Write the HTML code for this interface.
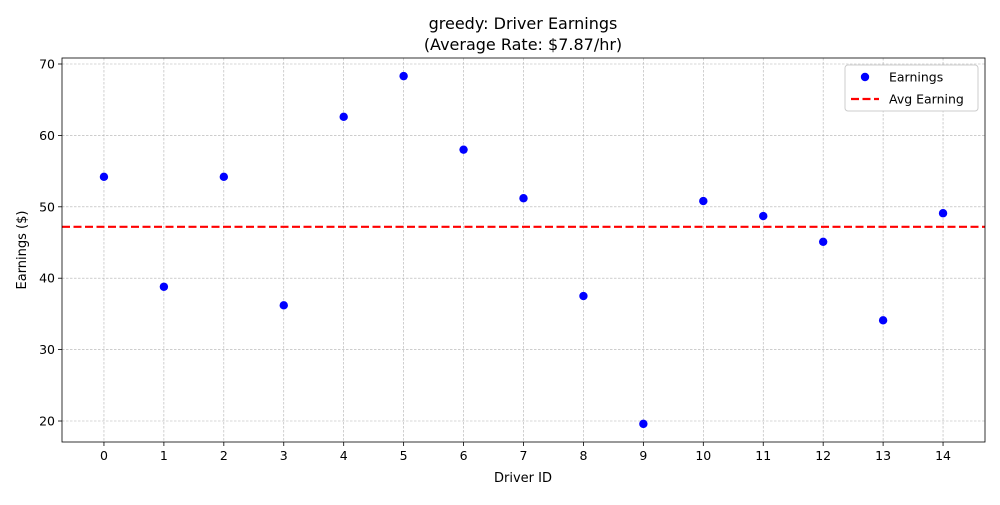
<!DOCTYPE html>
<html><head><meta charset="utf-8"><style>
body{margin:0;background:#fff;font-family:"Liberation Sans","DejaVu Sans",sans-serif;}
svg text{font-family:"DejaVu Sans","Liberation Sans",sans-serif;}
</style></head><body>
<svg id="chart" width="1000" height="500" xmlns="http://www.w3.org/2000/svg"></svg>
<script>
const driverIds=[0,1,2,3,4,5,6,7,8,9,10,11,12,13,14];
const earnings=[54.2,38.8,54.2,36.2,62.6,68.3,58.0,51.2,37.5,19.6,50.8,48.7,45.1,34.1,49.1];
const avgEarning=47.2;
const yTicks=[20,30,40,50,60,70];
const L=62,R=985,T=58,B=442,xMin=-0.7,xMax=14.7,yMin=17.06,yMax=70.84;
const sx=v=>L+(v-xMin)/(xMax-xMin)*(R-L);
const sy=v=>B-(v-yMin)/(yMax-yMin)*(B-T);
const svg=document.getElementById('chart');const NS='http://www.w3.org/2000/svg';
function mk(t,a,p){const e=document.createElementNS(NS,t);for(const k in a)e.setAttribute(k,a[k]);(p||svg).appendChild(e);return e;}
function tx(s,a){const e=mk('text',a);e.textContent=s;return e;}
driverIds.forEach(d=>{const x=sx(d);
const g=mk('line',{x1:x,x2:x,y1:T,y2:B,stroke:'#b0b0b0','stroke-width':0.6,'stroke-dasharray':'2.5,1.5'});


mk('line',{x1:x,x2:x,y1:B,y2:B+4,stroke:'#000','stroke-width':0.8});
const t=tx(String(d),{x:x,y:B+18,'text-anchor':'middle','font-size':12.5});

});
yTicks.forEach(v=>{const y=sy(v);
const g=mk('line',{x1:L,x2:R,y1:y,y2:y,stroke:'#b0b0b0','stroke-width':0.6,'stroke-dasharray':'2.5,1.5'});


mk('line',{x1:L-4,x2:L,y1:y,y2:y,stroke:'#000','stroke-width':0.8});
const t=tx(String(v),{x:L-7,y:y+4.5,'text-anchor':'end','font-size':12.5});

});
earnings.forEach((v,i)=>{const c=mk('circle',{cx:sx(driverIds[i]),cy:sy(v),r:4.2,fill:'#0000ff'});

});
const al=mk('line',{x1:L,x2:R,y1:sy(avgEarning),y2:sy(avgEarning),stroke:'#ff0000','stroke-width':2.2,'stroke-dasharray':'8,3.5'});


const fr=mk('rect',{x:L,y:T,width:R-L,height:B-T,fill:'none',stroke:'#000','stroke-width':0.8});


const t1=tx('greedy: Driver Earnings',{x:523,y:29,'text-anchor':'middle','font-size':16});


const t2=tx('(Average Rate: $7.87/hr)',{x:523,y:50,'text-anchor':'middle','font-size':16});


const xl=tx('Driver ID',{x:523,y:482,'text-anchor':'middle','font-size':13});


const yl=tx('Earnings ($)',{x:26,y:250,'text-anchor':'middle','font-size':13,transform:'rotate(-90 26 250)'});


const lg=mk('g',{});


mk('rect',{x:845,y:65,width:133,height:46,rx:3,fill:'#fff',stroke:'#ccc','stroke-width':1},lg);
const e1=mk('circle',{cx:865,cy:77,r:4.2,fill:'#0000ff'},lg);


const l1=mk('text',{x:889,y:81.5,'font-size':12.5},lg);l1.textContent='Earnings';


const e2=mk('line',{x1:851,x2:879,y1:99,y2:99,stroke:'#ff0000','stroke-width':2.2,'stroke-dasharray':'8,3.5'},lg);


const l2=mk('text',{x:889,y:103.5,'font-size':12.5},lg);l2.textContent='Avg Earning';


</script>
</body></html>
